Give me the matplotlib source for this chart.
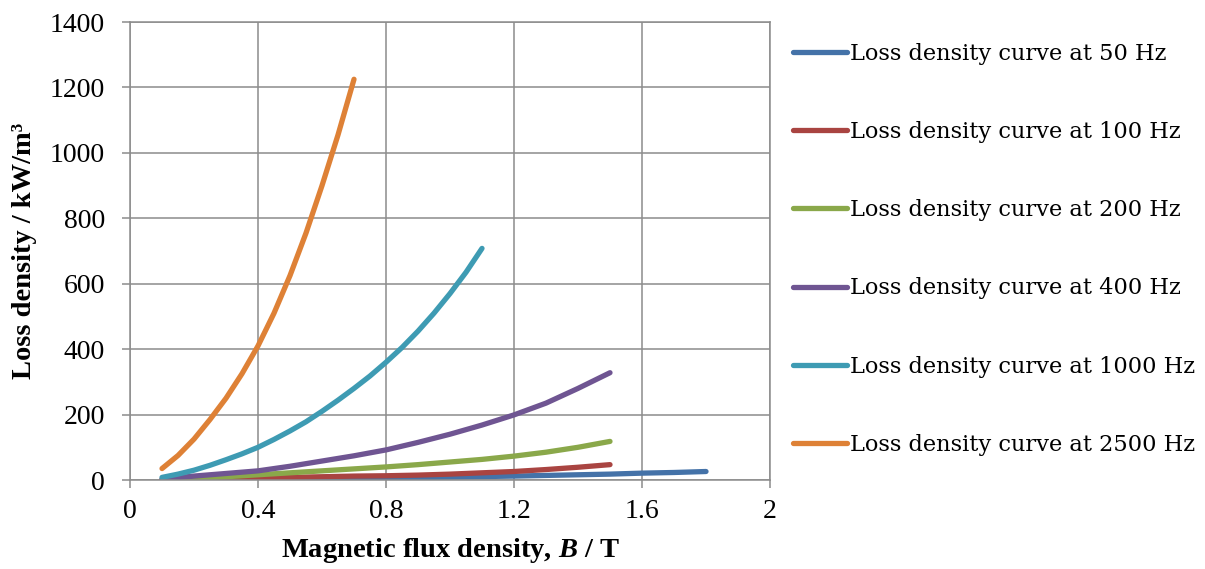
import matplotlib
matplotlib.use("Agg")
import matplotlib.pyplot as plt

plt.rcParams["font.family"] = "Liberation Serif"
plt.rcParams["mathtext.fontset"] = "custom"
plt.rcParams["mathtext.rm"] = "Liberation Serif:bold"
plt.rcParams["mathtext.it"] = "Liberation Serif:bold:italic"

# Loss density (kW/m3) against flux density B (T) at each frequency
b_50 = [0.1, 0.2, 0.3, 0.4, 0.5, 0.6, 0.7, 0.8, 0.9, 1.0, 1.1, 1.2, 1.3, 1.4, 1.5, 1.6, 1.7, 1.8]
p_50 = [0, 0.5, 1, 2, 3, 4, 5, 6, 7, 9, 10.5, 12, 14, 16, 18, 21, 23, 26]

b_100 = [0.1, 0.2, 0.3, 0.4, 0.5, 0.6, 0.7, 0.8, 0.9, 1.0, 1.1, 1.2, 1.3, 1.4, 1.5]
p_100 = [0, 2, 4, 6, 8, 10, 12, 13, 15, 18, 22, 26, 32, 39, 47]

b_200 = [0.1, 0.2, 0.3, 0.4, 0.5, 0.6, 0.7, 0.8, 0.9, 1.0, 1.1, 1.2, 1.3, 1.4, 1.5]
p_200 = [0, 5, 10, 16, 22, 28, 34, 40, 47, 55, 63, 73, 85, 100, 118]

b_400 = [0.1, 0.2, 0.3, 0.4, 0.5, 0.6, 0.7, 0.8, 0.9, 1.0, 1.1, 1.2, 1.3, 1.4, 1.5]
p_400 = [3, 12, 20, 28, 42, 58, 74, 92, 115, 140, 168, 199, 235, 280, 328]

b_1000 = [0.1, 0.15, 0.2, 0.25, 0.3, 0.35, 0.4, 0.45, 0.5, 0.55, 0.6, 0.65, 0.7,
          0.75, 0.8, 0.85, 0.9, 0.95, 1.0, 1.05, 1.1]
p_1000 = [8, 18, 30, 45, 62, 80, 100, 124, 150, 178, 210, 244, 280,
          318, 360, 405, 455, 510, 570, 635, 708]

b_2500 = [0.1, 0.15, 0.2, 0.25, 0.3, 0.35, 0.4, 0.45, 0.5, 0.55, 0.6, 0.65, 0.7]
p_2500 = [35, 75, 125, 185, 250, 325, 410, 510, 625, 755, 900, 1055, 1225]

series = [
    (b_50, p_50, "Loss density curve at 50 Hz", "#4472a8"),
    (b_100, p_100, "Loss density curve at 100 Hz", "#a94441"),
    (b_200, p_200, "Loss density curve at 200 Hz", "#8aa84a"),
    (b_400, p_400, "Loss density curve at 400 Hz", "#6f5592"),
    (b_1000, p_1000, "Loss density curve at 1000 Hz", "#3e9bb3"),
    (b_2500, p_2500, "Loss density curve at 2500 Hz", "#de8136"),
]

fig = plt.figure(figsize=(12.05, 5.69), dpi=100)
ax = fig.add_axes([0.1079, 0.1564, 0.5311, 0.8049])

for b, p, name, col in series:
    ax.plot(b, p, color=col, lw=3.8, solid_capstyle="round",
            solid_joinstyle="round", label=name)

ax.set_xlim(0, 2)
ax.set_ylim(0, 1400)
ax.set_xticks([0, 0.4, 0.8, 1.2, 1.6, 2])
ax.set_xticklabels(["0", "0.4", "0.8", "1.2", "1.6", "2"])
ax.set_yticks(range(0, 1401, 200))
ax.grid(True, color="#8c8c8c", lw=1.1)
ax.set_axisbelow(True)
for s in ax.spines.values():
    s.set_color("#8c8c8c")
    s.set_linewidth(1.1)
ax.tick_params(axis="both", labelsize=20, length=6, width=1.1, color="#8c8c8c")
ax.tick_params(axis="y", pad=12)
ax.tick_params(axis="x", pad=8)

ax.set_xlabel("Magnetic flux density, $B$ / T", fontsize=20.5, fontweight="bold", labelpad=8)
ax.set_ylabel("Loss density / kW/m³", fontsize=20.5, fontweight="bold", labelpad=9)

leg = fig.legend(loc="upper left", bbox_to_anchor=(0.658, 0.925), frameon=False,
                 prop={"family": "DejaVu Serif", "size": 16.2}, handlelength=2.4,
                 handletextpad=0.15, labelspacing=2.5, borderpad=0, borderaxespad=0)
for line in leg.get_lines():
    line.set_linewidth(3.8)

fig.savefig("out.png", dpi=100)
